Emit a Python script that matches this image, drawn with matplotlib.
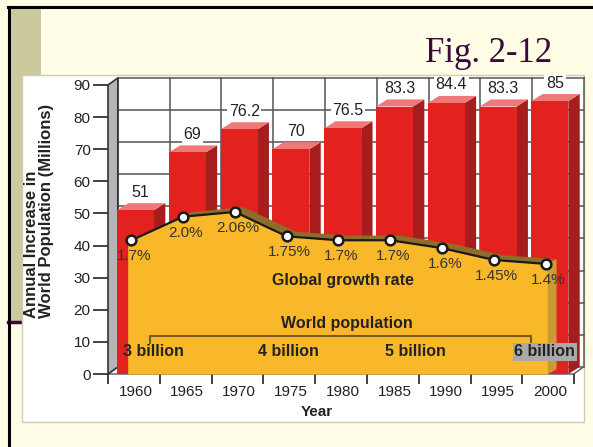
import numpy as np
import matplotlib.pyplot as plt
from matplotlib.patches import Polygon, Rectangle

plt.rcParams["font.family"] = ["Liberation Sans", "DejaVu Sans"]

# data
years = ["1960", "1965", "1970", "1975", "1980", "1985", "1990", "1995", "2000"]
increase = [51, 69, 76.2, 70, 76.5, 83.3, 84.4, 83.3, 85]
increase_labels = ["51", "69", "76.2", "70", "76.5", "83.3", "84.4", "83.3", "85"]
growth_rate = [1.7, 2.0, 2.06, 1.75, 1.7, 1.7, 1.6, 1.45, 1.4]
rate_labels = ["1.7%", "2.0%", "2.06%", "1.75%", "1.7%", "1.7%", "1.6%", "1.45%", "1.4%"]
population_labels = ["3 billion", "4 billion", "5 billion", "6 billion"]
population_at = [0.34, 2.95, 5.4, 7.9]  # position along the year axis

SLIDE = "#FFFDE6"
KHAKI = "#CCCA9C"
PURPLE = "#3A0A3A"
RED = "#E3221F"
RED_SIDE = "#A61D1D"
RED_TOP = "#F07878"
ORANGE = "#F9B82A"
ORANGE_TOP = "#8E6C2A"
ORANGE_SIDE = "#C99A35"
GRID = "#555555"
TEXT = "#222222"

X0, XR = -0.53, 8.65        # left wall / right end of the plot, in category units
WALL_DX, WALL_DY = 0.19, 2.2
BAR_W, BAR_DX = 0.714, 0.22
RATE_TOP = 90 / 24.5        # rate axis mapped onto the 0..90 scale


def main() -> None:
    n = len(years)
    idx = np.arange(n)

    fig = plt.figure(figsize=(5.93, 4.47), dpi=100, facecolor=SLIDE)

    # slide decoration in pixel coordinates
    bg = fig.add_axes([0, 0, 1, 1])
    bg.set_xlim(0, 593)
    bg.set_ylim(447, 0)
    bg.axis("off")
    bg.add_patch(Rectangle((8, 9), 33, 313, fc=KHAKI, ec="none"))
    bg.plot([8, 22], [322, 322], color=PURPLE, lw=2.5)
    bg.plot([8.5, 8.5], [7, 447], color="black", lw=2.2)
    bg.plot([8, 593], [7, 7], color="black", lw=2.2)
    bg.add_patch(Rectangle((22, 75), 562, 347, fc="white", ec="#CFCDB0", lw=1,
                           zorder=3))
    bg.text(552, 62, "Fig. 2-12", ha="right", va="baseline", fontsize=25,
            family="Liberation Serif", color=PURPLE)
    bg.text(39, 318, "Annual Increase in\nWorld Population (Millions)",
            rotation=90, ha="center", va="bottom", multialignment="left",
            fontsize=12, fontweight="bold", linespacing=0.95, color=TEXT,
            zorder=4)

    ax = fig.add_axes([108 / 593, 73 / 447, 475.5 / 593, 289 / 447])
    ax.set_xlim(X0, XR)
    ax.set_ylim(0, 90)
    ax.patch.set_visible(False)
    for s in ax.spines.values():
        s.set_visible(False)

    # back wall, floor and left wall
    wl = X0 + WALL_DX
    ax.add_patch(Rectangle((wl, WALL_DY), XR - wl, 90, fc="white", ec="none",
                           zorder=1, clip_on=False))
    for v in range(10, 100, 10):
        ax.plot([wl, XR], [v + WALL_DY] * 2, color=GRID, lw=1.1, zorder=1.1,
                clip_on=False)
    for k in range(n):
        ax.plot([wl + k] * 2, [WALL_DY, 90 + WALL_DY], color=GRID, lw=1.1,
                zorder=1.1, clip_on=False)
    ax.plot([XR, XR], [WALL_DY, 90 + WALL_DY], color=GRID, lw=1.1, zorder=1.1,
            clip_on=False)
    ax.add_patch(Polygon([(X0, 0), (XR - WALL_DX, 0), (XR, WALL_DY), (wl, WALL_DY)],
                         closed=True, fc="white", ec=GRID, lw=1, zorder=1.2,
                         clip_on=False))
    ax.add_patch(Polygon([(X0, 0), (X0, 90), (wl, 90 + WALL_DY), (wl, WALL_DY)],
                         closed=True, fc="#B5B5B5", ec="#333333", lw=1.2,
                         zorder=1.3, clip_on=False))

    # 3D bars
    bars = ax.bar(idx, increase, width=BAR_W, color=RED, zorder=2.2)
    for b in bars:
        xl, w, h = b.get_x(), b.get_width(), b.get_height()
        xr = xl + w
        ax.add_patch(Polygon([(xr, 0), (xr, h), (xr + BAR_DX, h + WALL_DY),
                              (xr + BAR_DX, WALL_DY)], closed=True,
                             fc=RED_SIDE, ec="none", zorder=2.1, clip_on=False))
        ax.add_patch(Polygon([(xl, h), (xr, h), (xr + BAR_DX, h + WALL_DY),
                              (xl + BAR_DX, h + WALL_DY)], closed=True,
                             fc=RED_TOP, ec="none", zorder=2.1, clip_on=False))
    for i, (v, lbl) in enumerate(zip(increase, increase_labels)):
        ax.annotate(lbl, (i + 0.1, v), xytext=(0, 13), textcoords="offset points",
                    ha="center", va="center", fontsize=11.5, color=TEXT,
                    bbox=dict(boxstyle="square,pad=0.1", fc="white", ec="none"),
                    zorder=3, annotation_clip=False)

    # axes ticks
    ax.set_yticks(np.arange(0, 91, 10))
    ax.tick_params(axis="y", length=10.5, width=1.3, color="#333333", pad=2,
                   labelsize=11, labelcolor=TEXT)
    ax.set_xticks(np.arange(n + 1) + X0)
    ax.set_xticklabels([])
    ax.set_xticks(idx, minor=True)
    ax.set_xticklabels(years, minor=True)
    ax.tick_params(axis="x", which="major", length=7, width=1.3, color="#333333")
    ax.tick_params(axis="x", which="minor", length=0, pad=8, labelsize=11,
                   labelcolor=TEXT)
    ax.set_xlabel("Year", fontweight="bold", fontsize=11, color=TEXT, va="center")
    ax.xaxis.set_label_coords(0.44, -0.13)

    # growth-rate area on its own scale, drawn in front of the bars
    ax2 = ax.twinx()
    ax2.set_ylim(0, RATE_TOP)
    ax2.axis("off")
    px = idx - 0.08
    x_left, x_right = -0.15, 7.96
    xs = np.concatenate([[x_left], px, [x_right]])
    ys = np.concatenate([[growth_rate[0]], growth_rate, [growth_rate[-1]]])
    ddx, ddy = 0.17, 0.06
    top = list(zip(xs, ys)) + list(zip(xs[::-1] + ddx, ys[::-1] + ddy))
    ax2.add_patch(Polygon(top, closed=True, fc=ORANGE_TOP, ec="none", zorder=1))
    ax2.fill_between(xs, 0, ys, color=ORANGE, lw=0, zorder=2)
    ax2.add_patch(Polygon([(x_right, 0), (x_right, ys[-1]),
                           (x_right + ddx, ys[-1] + ddy), (x_right + ddx, ddy)],
                          closed=True, fc=ORANGE_SIDE, ec="none", zorder=2))
    ax2.plot(xs, ys, color="#1A1A1A", lw=1.6, zorder=3)
    ax2.plot(px, growth_rate, "o", ms=7, mfc="white", mec="#1A1A1A", mew=1.8,
             zorder=4)
    for x, r, lbl in zip(px, growth_rate, rate_labels):
        ax2.annotate(lbl, (x, r), xytext=(2, -11.5), textcoords="offset points",
                     ha="center", va="center", fontsize=11, color="#333333",
                     zorder=5)

    tr = ax.transData
    ax2.text(4.0, 29.0, "Global growth rate", transform=tr, ha="center",
             va="center", fontsize=11.5, fontweight="bold", color=TEXT, zorder=5)
    ax2.text(4.08, 15.6, "World population", transform=tr, ha="center",
             va="center", fontsize=11.5, fontweight="bold", color=TEXT, zorder=5)
    ax2.plot([0.28, 0.28, 7.63, 7.63], [9.7, 11.8, 11.8, 9.7], transform=tr,
             color="#7A5A1E", lw=1.5, zorder=5)
    for x, lbl in zip(population_at, population_labels):
        box = None
        if lbl == population_labels[-1]:
            box = dict(boxstyle="square,pad=0.1", fc="#A9A9A9", ec="none")
        ax2.text(x, 6.9, lbl, transform=tr, ha="center", va="center",
                 fontsize=11.5, fontweight="bold", color=TEXT, bbox=box, zorder=5)

    fig.savefig("out.png", dpi=100, facecolor=SLIDE)


if __name__ == "__main__":
    main()
